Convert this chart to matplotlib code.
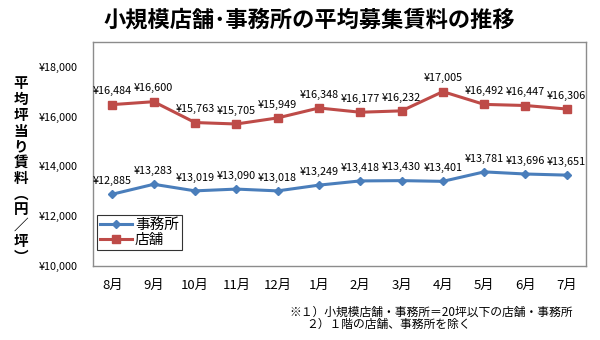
import matplotlib
matplotlib.use('Agg')
import matplotlib.pyplot as plt

plt.rcParams['font.family'] = ['Noto Sans CJK JP', 'DejaVu Sans']

months = ['8月', '9月', '10月', '11月', '12月', '1月', '2月', '3月', '4月', '5月', '6月', '7月']
office = [12885, 13283, 13019, 13090, 13018, 13249, 13418, 13430, 13401, 13781, 13696, 13651]
shop = [16484, 16600, 15763, 15705, 15949, 16348, 16177, 16232, 17005, 16492, 16447, 16306]
yticks = [10000, 12000, 14000, 16000, 18000]

blue = '#4A7EBB'
red = '#BE4B48'

fig = plt.figure(figsize=(6, 3.4), dpi=100)
ax = fig.add_axes([0.155, 0.2176, 0.822, 0.659])

x = list(range(len(months)))
ax.plot(x, office, color=blue, lw=2.2, marker='D', ms=4.5, label='事務所')
ax.plot(x, shop, color=red, lw=2.2, marker='s', ms=6, label='店舗')

# data labels above each point
for series in (office, shop):
    for xi, v in zip(x, series):
        ax.annotate(f'¥{v:,}', (xi, v), xytext=(0, 6), textcoords='offset points',
                    ha='center', va='bottom', fontsize=7.8)

ax.set_xlim(-0.47, 11.47)
ax.set_ylim(10000, 19000)
ax.set_yticks(yticks)
ax.set_yticklabels([f'¥{v:,}' for v in yticks], fontsize=7.8)
ax.set_xticks(x)
ax.set_xticklabels(months, fontsize=9.5)
ax.tick_params(axis='both', length=0)
ax.tick_params(axis='y', pad=11)
ax.tick_params(axis='x', pad=9)
for s in ax.spines.values():
    s.set_color('#8c8c8c')
    s.set_linewidth(1)

leg = ax.legend(loc='lower left', bbox_to_anchor=(0.008, 0.07), fontsize=10.5,
                frameon=True, fancybox=False, handlelength=2.2, handletextpad=0.2,
                borderpad=0.2, labelspacing=0.1, borderaxespad=0)
leg.get_frame().set_edgecolor('black')
leg.get_frame().set_linewidth(0.8)

fig.text(0.515, 0.94, '小規模店舗･事務所の平均募集賃料の推移', ha='center', va='center',
         fontsize=16, fontweight='bold')

ylabel = '平均坪当り賃料︵円／坪︶'
fig.text(0.035, 0.5, '\n'.join(ylabel), ha='center', va='center', fontsize=10.5,
         fontweight='bold', linespacing=0.98)

fig.text(0.483, 0.082, '※１）小規模店舗・事務所＝20坪以下の店舗・事務所', ha='left', va='center',
         fontsize=8.5)
fig.text(0.51, 0.045, '２）１階の店舗、事務所を除く', ha='left', va='center', fontsize=8.5)

fig.savefig('out.png', dpi=100)
